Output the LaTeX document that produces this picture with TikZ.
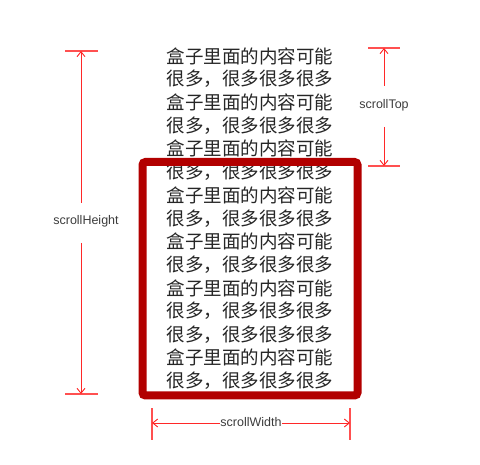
\documentclass[tikz,border=0pt]{standalone}
\usepackage{fontspec}
\setmainfont{Liberation Sans}
\newfontfamily\cjk{Noto Sans CJK SC}
\usetikzlibrary{arrows.meta}
\definecolor{boxred}{RGB}{178,0,0}
\definecolor{dimred}{RGB}{255,40,40}
\definecolor{tickred}{RGB}{255,80,80}
\definecolor{labelgray}{RGB}{60,60,60}
\tikzset{
  cjkline/.style={inner sep=0pt, font=\cjk\fontsize{18.5}{20}\selectfont, text=black!85},
  dimline/.style={draw=dimred, line width=0.9pt, -{Straight Barb[length=5pt,width=8pt]}},
  tickline/.style={draw=tickred, line width=1.4pt},
  dimlabel/.style={inner sep=1pt, font=\fontsize{12.5}{14}\selectfont, text=labelgray},
  scrollbox/.style={draw=boxred, line width=8pt, rounded corners=3pt, inner sep=0pt}
}
\begin{document}
\begin{tikzpicture}[x=1pt,y=-1pt]
\useasboundingbox (0,0) rectangle (480,465);
% content lines
\def\la{盒子里面的内容可能}
\def\lb{很多，很多很多很多}
\foreach \i/\t in {1/\la,2/\lb,3/\la,4/\lb,5/\la,6/\lb,7/\la,8/\lb,9/\la,10/\lb,11/\la,12/\lb,13/\lb,14/\la,15/\lb}{
  \node[cjkline] (l\i) at (250,{56+23.2*(\i-1)}) {\t};
}
% visible box
\node[scrollbox, minimum width=215pt, minimum height=233.5pt] (box) at (250,278.75) {};
% scrollHeight
\coordinate (hT) at (81,51);
\coordinate (hB) at (81,394);
\coordinate (hG1) at (81,203);
\coordinate (hG2) at (81,243);
\node[dimlabel] (hl) at (86,221) {scrollHeight};
\draw[tickline] ([xshift=-16pt]hT) -- ([xshift=17pt]hT);
\draw[tickline] ([xshift=-16pt]hB) -- ([xshift=17pt]hB);
\draw[dimline] (hG1) -- (hT);
\draw[dimline] (hG2) -- (hB);
% scrollTop
\coordinate (tT) at (384,48);
\coordinate (tB) at (384,166);
\coordinate (tG1) at (384,86);
\coordinate (tG2) at (384,127);
\node[dimlabel] (tl) at (384,105) {scrollTop};
\draw[tickline] ([xshift=-16pt]tT) -- ([xshift=16pt]tT);
\draw[tickline] ([xshift=-16pt]tB) -- ([xshift=16pt]tB);
\draw[dimline] (tG1) -- (tT);
\draw[dimline] (tG2) -- (tB);
% scrollWidth
\coordinate (wL) at (152,423);
\coordinate (wR) at (350,423);
\coordinate (wM) at (251,423);
\draw[tickline] ([yshift=-17pt]wL) -- ([yshift=15pt]wL);
\draw[tickline] ([yshift=-17pt]wR) -- ([yshift=15pt]wR);
\draw[dimline] (wM) -- (wL);
\draw[dimline] (wM) -- (wR);
\node[dimlabel, fill=white, inner sep=0.5pt] (wl) at (251,422) {scrollWidth};
\end{tikzpicture}
\end{document}
